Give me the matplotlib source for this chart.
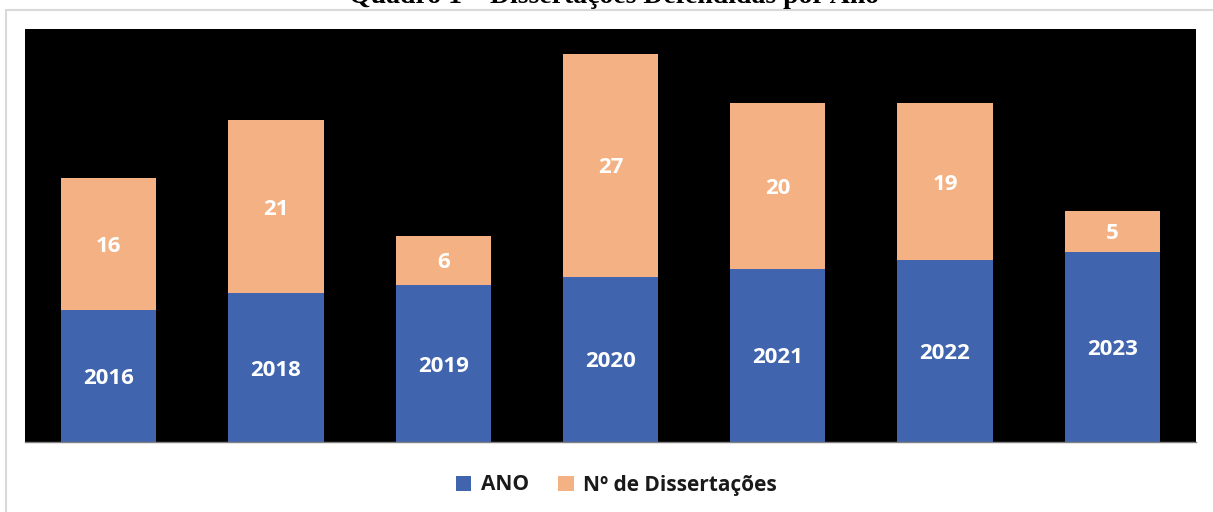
import matplotlib.pyplot as plt
import matplotlib.patches as mpatches

anos = ["2016", "2018", "2019", "2020", "2021", "2022", "2023"]
ano_vals = [2016, 2018, 2019, 2020, 2021, 2022, 2023]
dissertacoes = [16, 21, 6, 27, 20, 19, 5]

BLUE = "#4064ad"
ORANGE = "#f4b183"

fig = plt.figure(figsize=(12.13, 5.12), dpi=100)

# light gray frame around the chart
fig.patches.append(
    mpatches.Rectangle((6 / 1213, -0.1), 1.1, (502 / 512) + 0.1,
                       transform=fig.transFigure, fill=False,
                       edgecolor="#d9d9d9", linewidth=1.5)
)

ax = fig.add_axes([25 / 1213, 70 / 512, 1171 / 1213, 413 / 512])
ax.set_facecolor("black")

x = range(len(anos))
ax.bar(x, ano_vals, width=0.57, color=BLUE, label="ANO")
ax.bar(x, dissertacoes, width=0.57, bottom=ano_vals, color=ORANGE,
       label="Nº de Dissertações")

ax.set_xlim(-0.5, len(anos) - 0.5)
ax.set_ylim(2000, 2050)
ax.set_xticks([])
ax.set_yticks([])
for side in ["top", "left", "right"]:
    ax.spines[side].set_visible(False)
ax.spines["bottom"].set_color("#808080")
ax.spines["bottom"].set_linewidth(1)

lbl = dict(ha="center", va="center_baseline", color="white", fontsize=16,
           fontweight="bold", family="Open Sans")
for i, (a, d) in enumerate(zip(ano_vals, dissertacoes)):
    ax.text(i, (2000 + a) / 2, str(a), **lbl)
    ax.text(i, a + d / 2, str(d), **lbl)

# title sits partly above the top edge, as in the source image
fig.text(0.506, 1.006, "Quadro 1 – Dissertações Defendidas por Ano",
         ha="center", va="center", fontsize=20, fontweight="bold",
         family="Liberation Serif")

leg = fig.legend(loc="center", bbox_to_anchor=(0.508, 27 / 512),
                 ncol=2, frameon=False, handlelength=0.75, handleheight=0.75,
                 columnspacing=1.4, handletextpad=0.45,
                 prop={"family": "Open Sans", "weight": "bold", "size": 15})
for t in leg.get_texts():
    t.set_color("#1a1a1a")

fig.savefig("out.png", dpi=100)
